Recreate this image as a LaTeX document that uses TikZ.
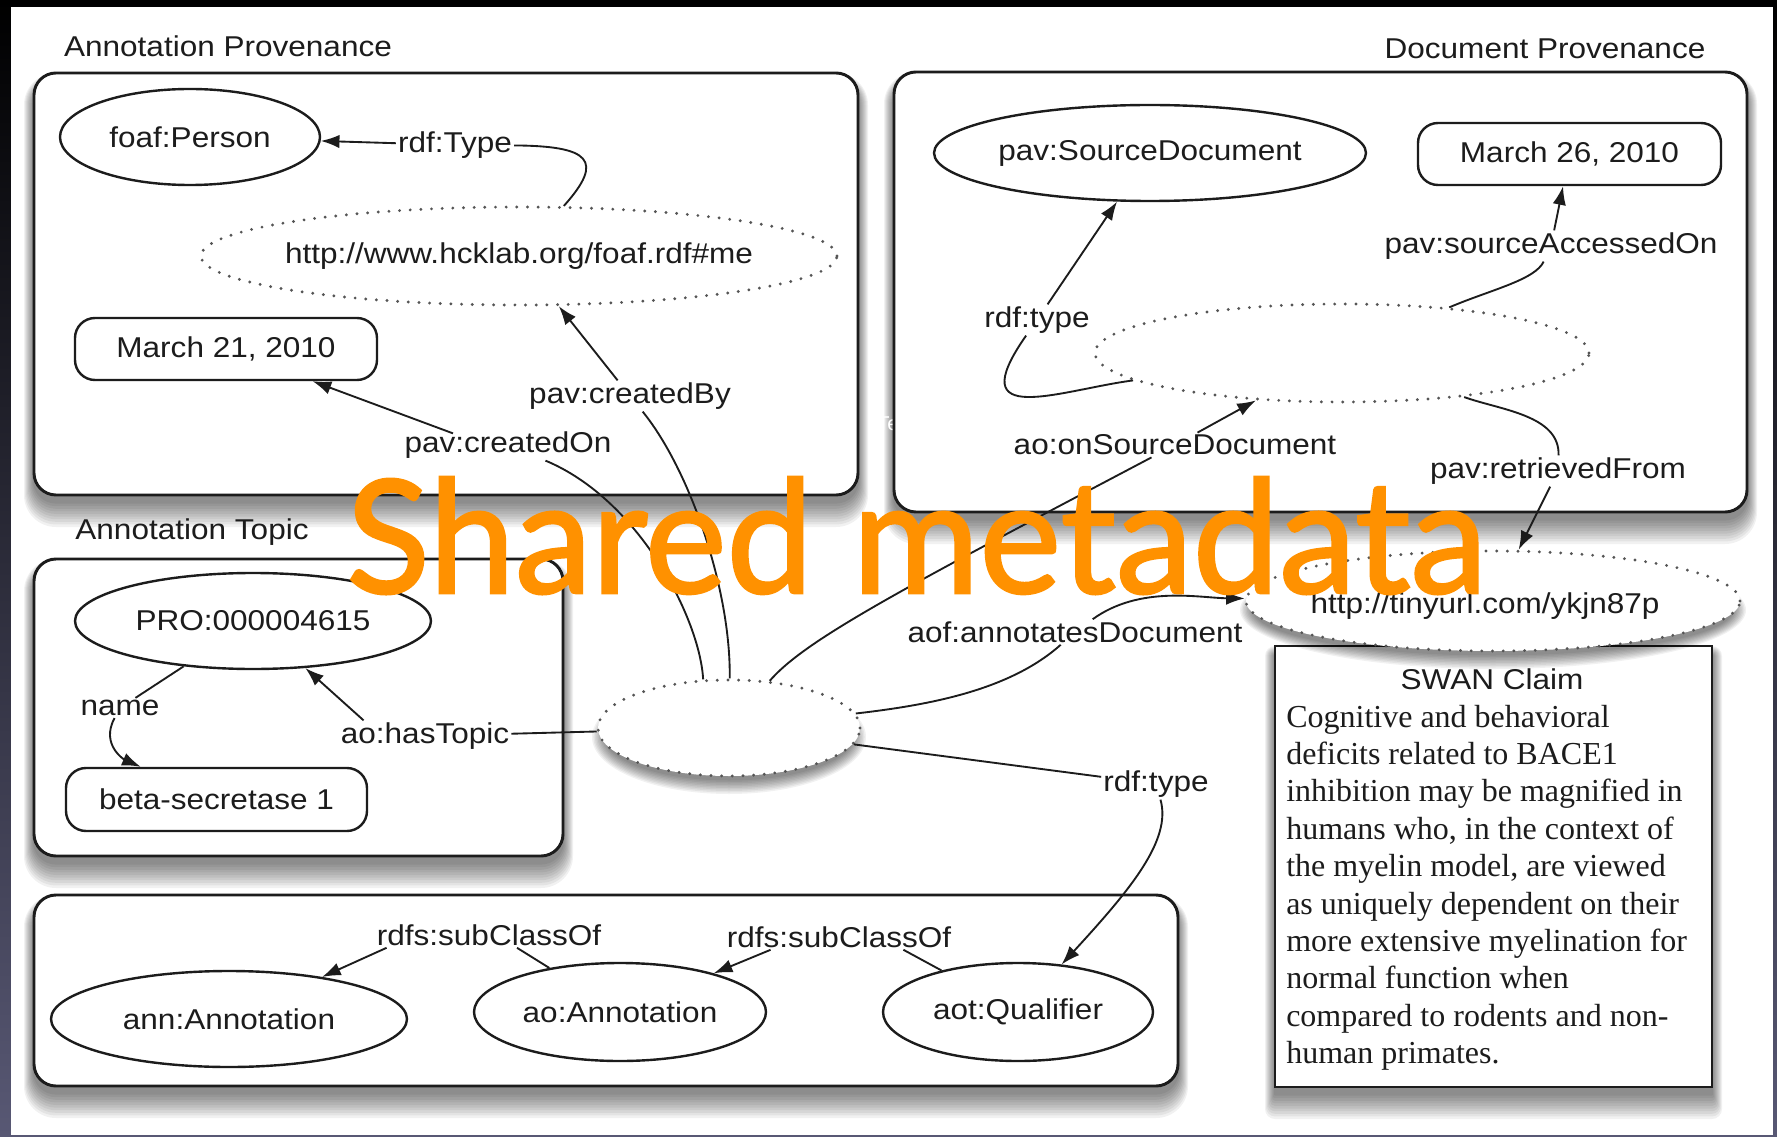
\documentclass[tikz,border=0pt]{standalone}
\usepackage{fontspec}
\setmainfont{Liberation Sans}
\newfontfamily\labfont[FakeStretch=1.1]{Liberation Sans}
\newfontfamily\serfont{Liberation Serif}
\newfontfamily\bigfont[FakeBold=1.6]{Lato}
\usetikzlibrary{shapes.geometric,arrows.meta,calc}
\definecolor{ink}{RGB}{28,28,28}
\definecolor{dotc}{RGB}{85,85,85}
\definecolor{orng}{RGB}{255,145,0}
\definecolor{edgec}{RGB}{88,88,116}
\newcommand\rshadow[5]{%
  \foreach \i in {1,...,10}{%
    \pgfmathsetmacro\rr{(#5+\i)*0.75}%
    \fill[black,opacity=0.055,rounded corners=\rr pt] ({#1-\i},{#2+10-\i}) rectangle ({#3+\i},{#4+6+2.6*\i});
  }}
\newcommand\eshadow[4]{%
  \foreach \i in {1,...,10}{%
    \fill[black,opacity=0.055] ({#1},{#2+9}) ellipse [x radius={#3-8+1.4*\i}, y radius={#4-6+1.5*\i}];
  }}
\begin{document}
\begin{tikzpicture}[x=0.75pt,y=-0.75pt,
  lab/.style={font=\labfont\fontsize{21.5pt}{25pt}\selectfont, text=ink, inner sep=1.5pt},
  ell/.style={ellipse, draw=ink, line width=1.8pt, fill=white, inner sep=0pt},
  dell/.style={ellipse, draw=dotc, line width=2.4pt, dash pattern=on 0pt off 8pt, line cap=round, inner sep=0pt},
  rbox/.style={rectangle, draw=ink, line width=1.8pt, fill=white, rounded corners=15pt, inner sep=0pt, font=\labfont\fontsize{21.5pt}{25pt}\selectfont, text=ink},
  frame/.style={draw=ink, line width=2.2pt, fill=white, rounded corners=16.5pt},
  conn/.style={draw=ink, line width=1.4pt},
  arr/.style={conn, -{Latex[length=14pt,width=10pt]}},
  ser/.style={font=\serfont\fontsize{24pt}{28pt}\selectfont, text=ink, inner sep=0pt, anchor=base west}
]
\useasboundingbox (0,0) rectangle (1777,1137);
\shade[top color=black, bottom color=edgec] (0,0) rectangle (1777,1137);
\fill[white] (11,7) rectangle (1773,1135);

% shadows of the frames
\rshadow{34}{73}{858}{495}{22}
\rshadow{894}{72}{1747}{512}{22}
\rshadow{34}{559}{563}{856}{22}
\rshadow{34}{895}{1178}{1086}{22}
\rshadow{1275}{646}{1712}{1087}{0}

% frames
\draw[frame] (34,73) rectangle (858,495);
\node[anchor=base west, inner sep=0pt, text=white, font=\fontsize{15pt}{17pt}\selectfont] (ghost) at (877,430) {Text};
\draw[frame] (894,72) rectangle (1747,512);
\draw[frame] (34,559) rectangle (563,856);
\draw[frame] (34,895) rectangle (1178,1086);
\draw[draw=ink, line width=2pt, fill=white] (1275,646) rectangle (1712,1087);

% section titles
\node[lab] (aptitle) at (228,46) {Annotation Provenance};
\node[lab] (dptitle) at (1545,49) {Document Provenance};
\node[lab] (attitle) at (192,532) {Annotation Topic};

% SWAN claim
\node[lab] (swan) at (1492,679) {SWAN Claim};
\node[ser] (s1) at (1286,727) {Cognitive and behavioral};
\node[ser] (s2) at (1286,764.4) {deficits related to BACE1};
\node[ser] (s3) at (1286,801.8) {inhibition may be magnified in};
\node[ser] (s4) at (1286,839.2) {humans who, in the context of};
\node[ser] (s5) at (1286,876.6) {the myelin model, are viewed};
\node[ser] (s6) at (1286,914) {as uniquely dependent on their};
\node[ser] (s7) at (1286,951.4) {more extensive myelination for};
\node[ser] (s8) at (1286,988.8) {normal function when};
\node[ser] (s9) at (1286,1026.2) {compared to rodents and non-};
\node[ser] (s10) at (1286,1063.6) {human primates.};

% ellipse shadows
\eshadow{729}{728}{131}{48}
\eshadow{1493}{601}{247}{50}

% nodes
\node[ell, minimum width=195pt, minimum height=72pt, label={[lab]center:{foaf:Person}}] (foaf) at (190,137) {};
\node[dell, minimum width=477pt, minimum height=73.5pt, label={[lab]center:{http://www.hcklab.org/foaf.rdf\#me}}] (http) at (519,256) {};
\node[rbox, minimum width=226.5pt, minimum height=46.5pt] (march21) at (226,349) {March 21, 2010};
\node[ell, minimum width=267pt, minimum height=72pt, label={[lab]center:{PRO:000004615}}] (pro) at (253,621) {};
\node[rbox, minimum width=225.75pt, minimum height=47.25pt] (beta) at (216.5,799.5) {beta-secretase 1};
\node[dell, fill=white, minimum width=196.5pt, minimum height=72pt] (central) at (729,728) {};
\node[ell, minimum width=324pt, minimum height=72pt, label={[lab]center:{pav:SourceDocument}}] (srcdoc) at (1150,153) {};
\node[rbox, minimum width=227.25pt, minimum height=46.5pt] (march26) at (1569.5,154) {March 26, 2010};
\node[dell, minimum width=370.5pt, minimum height=73.5pt] (docx) at (1342,353) {};
\node[dell, fill=white, minimum width=370.5pt, minimum height=75pt] (tiny) at (1493,601) {};
\node[lab] (tinytext) at (1485,606) {http://tinyurl.com/ykjn87p};
\node[ell, minimum width=267pt, minimum height=72pt, label={[lab]center:{ann:Annotation}}] (annann) at (229,1019) {};
\node[ell, minimum width=219pt, minimum height=73.5pt, label={[lab]center:{ao:Annotation}}] (aoann) at (620,1012) {};
\node[ell, minimum width=202.5pt, minimum height=73.5pt, label={[lab]center:{aot:Qualifier}}] (qual) at (1018,1012) {};

% edge labels
\node[lab] (rdftype1) at (455,145) {rdf:Type};
\node[lab] (createdOn) at (508,445) {pav:createdOn};
\node[lab] (createdBy) at (630,396) {pav:createdBy};
\node[lab] (name) at (120,708) {name};
\node[lab] (hasTopic) at (425,736) {ao:hasTopic};
\node[lab] (rdftype2) at (1037,320) {rdf:type};
\node[lab] (srcacc) at (1551,246) {pav:sourceAccessedOn};
\node[lab] (onsrc) at (1175,445) {ao:onSourceDocument};
\node[lab] (retr) at (1558,471) {pav:retrievedFrom};
\node[lab] (annot) at (1075,632) {aof:annotatesDocument};
\node[lab] (rdftype3) at (1156,784) {rdf:type};
\node[lab] (sub1) at (489,935) {rdfs:subClassOf};
\node[lab] (sub2) at (839,937) {rdfs:subClassOf};

% connectors: annotation provenance
\draw[arr] (rdftype1) -- (foaf);
\draw[conn] (rdftype1) .. controls (590,146) and (605,160) .. (http);
\draw[conn] (central) .. controls (731,590) and (690,470) .. (createdBy);
\draw[arr] (createdBy) -- (http);
\draw[conn] (central.118) .. controls (700,620) and (640,500) .. (createdOn);
\draw[arr] ($(createdOn.north)+(-55,4)$) -- (march21);
% annotation topic
\draw[arr] ($(hasTopic.north west)+(25,0)$) -- (pro);
\draw[conn] (hasTopic) -- (central);
\draw[conn] (pro) -- (name);
\draw[arr] (name) .. controls (100,745) and (125,760) .. (beta);
% type of the annotation
\draw[conn] (central) -- (rdftype3);
\draw[arr] (rdftype3) .. controls (1172,840) and (1130,890) .. (qual);
% document
\draw[conn] (central) .. controls (930,705) and (1010,690) .. (annot);
\draw[arr] (annot) .. controls (1140,585) and (1200,598) .. (tiny);
\draw[conn] (central) .. controls (805,640) and (900,590) .. (onsrc);
\draw[arr] (onsrc) -- (docx);
\draw[conn] (rdftype2) .. controls (960,430) and (1060,390) .. (docx);
\draw[arr] (rdftype2) -- (srcdoc);
\draw[conn] (docx) .. controls (1490,290) and (1535,280) .. (srcacc);
\draw[arr] (srcacc) -- (march26);
\draw[conn] (docx) .. controls (1500,410) and (1560,415) .. (retr);
\draw[arr] (retr) -- (tiny);
% subclasses
\draw[arr] ($(sub1.south west)+(12,0)$) -- (annann);
\draw[conn] ($(sub1.south)+(28,0)$) -- (aoann);
\draw[arr] ($(sub2.south west)+(46,0)$) -- (aoann);
\draw[conn] ($(sub2.south east)+(-50,0)$) -- (qual);

% title
\node[anchor=base west, inner sep=0pt, text=orng] (shared) at (346,593) {\resizebox{855pt}{87pt}{\bigfont Shared metadata}};
\end{tikzpicture}
\end{document}
